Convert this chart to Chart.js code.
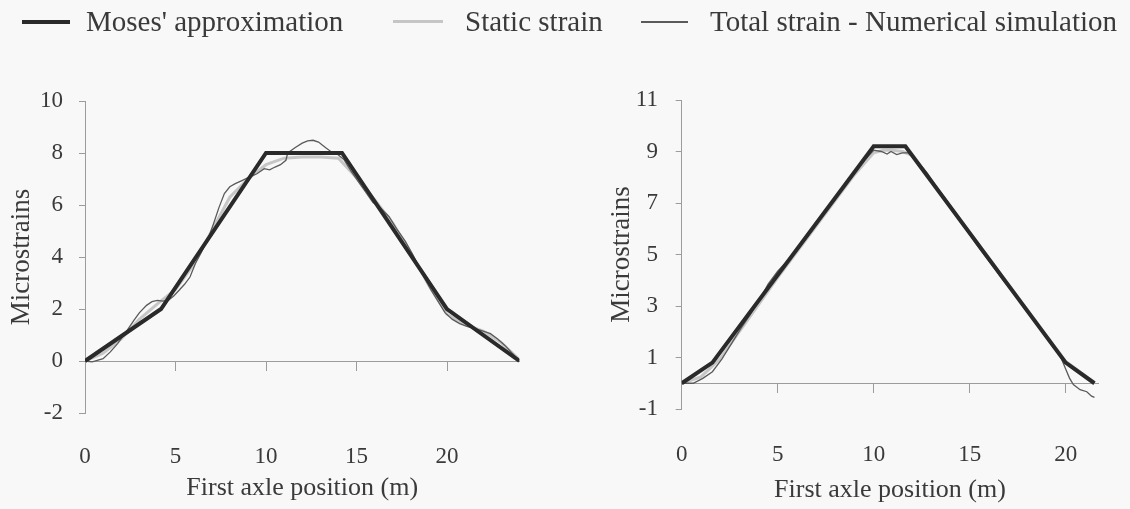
<!DOCTYPE html>
<html>
<head>
<meta charset="utf-8">
<script src="https://cdn.jsdelivr.net/npm/chart.js@4.4.1/dist/chart.umd.min.js"></script>
<style>
  html, body { margin: 0; padding: 0; background: #f8f8f8; }
  #wrap { position: relative; width: 1130px; height: 509px; overflow: hidden;
          font-family: "Liberation Serif", "Times New Roman", serif; color: #3a3a3a; }
  .pane { position: absolute; top: 0; width: 565px; height: 509px; }
  #paneL { left: 0; }
  #paneR { left: 565px; }
  #legend { position: absolute; top: 0; left: 0; width: 1130px; height: 45px; z-index: 2; }
  .lg-line { position: absolute; }
  .lg-text { position: absolute; top: 3px; font-size: 29px; line-height: 36px; white-space: nowrap; }
</style>
</head>
<body>
<div id="wrap">
  <div id="legend"></div>
  <div class="pane" id="paneL"><canvas id="chartL" width="565" height="509"></canvas></div>
  <div class="pane" id="paneR"><canvas id="chartR" width="565" height="509"></canvas></div>
</div>
<script>
// series names (shared legend)
const seriesNames = ["Moses' approximation", 'Static strain', 'Total strain - Numerical simulation'];

// left plot - first axle position (m) / microstrains
const leftMosesX = [0, 4.2, 10, 14.2, 20, 24];
const leftMosesY = [0, 2, 8, 8, 2, 0];

const leftStaticX = [0, 1, 2, 3, 4, 5, 6, 7, 8, 9, 10, 11, 12, 13, 14, 15, 16, 17, 18, 19, 20, 21, 22, 23, 24];
const leftStaticY = [0, 0.3, 0.85, 1.6, 2.2, 2.75, 3.7, 5.0, 6.3, 7.0, 7.55, 7.8, 7.85, 7.85, 7.8, 7.05, 6.2, 5.3, 4.15, 2.9, 1.8, 1.4, 1.15, 0.7, 0.05];

const leftTotalX = [0, 0.4, 1.0, 1.4, 1.8, 2.3, 2.7, 3.0, 3.4, 3.7, 4.0, 4.3, 4.6, 4.9, 5.2, 5.5, 5.8, 6.1, 6.4, 6.8,
  7.1, 7.4, 7.7, 8.0, 8.3, 8.7, 9.1, 9.5, 9.9, 10.2, 10.5, 10.8, 11.1, 11.2, 11.6, 12.0, 12.3, 12.6, 12.9, 13.3,
  13.6, 13.9, 14.3, 14.7, 15.1, 15.5, 15.9, 16.3, 16.8, 17.2, 17.7, 18.1, 18.6, 19.1, 19.5, 19.9, 20.3, 20.7,
  21.1, 21.6, 22.0, 22.4, 22.8, 23.2, 23.6, 24.0];
const leftTotalY = [0, -0.03, 0.09, 0.35, 0.67, 1.15, 1.56, 1.85, 2.14, 2.28, 2.33, 2.3, 2.33, 2.5, 2.72, 2.95, 3.23, 3.75, 4.15, 4.7,
  5.28, 5.9, 6.44, 6.7, 6.82, 6.95, 7.08, 7.2, 7.4, 7.35, 7.46, 7.55, 7.72, 8.0, 8.2, 8.38, 8.47, 8.49, 8.42, 8.2,
  8.05, 7.98, 7.75, 7.3, 6.9, 6.5, 6.1, 5.9, 5.55, 5.1, 4.6, 4.1, 3.4, 2.75, 2.3, 1.85, 1.6, 1.44,
  1.33, 1.24, 1.15, 1.05, 0.85, 0.6, 0.3, 0.02];

// right plot
const rightMosesX = [0, 1.6, 10, 11.65, 20, 21.5];
const rightMosesY = [0, 0.8, 9.2, 9.2, 0.8, 0];

const rightStaticX = [0, 1, 2, 3, 4, 5, 6, 7, 8, 9, 10, 10.5, 11, 11.5, 12, 13, 14, 15, 16, 17, 18, 19, 20, 21, 21.5];
const rightStaticY = [0, 0.25, 0.95, 2.0, 3.05, 4.1, 5.1, 6.1, 7.1, 8.1, 8.95, 9.05, 9.05, 9.0, 8.85, 7.85, 6.85, 5.85, 4.85, 3.85, 2.85, 1.85, 0.85, 0.3, 0];

const rightTotalX = [0, 0.6, 1.1, 1.6, 2.1, 2.6, 3.1, 3.6, 4.1, 4.5, 5.0, 5.5, 6.0, 6.5, 7.0, 7.5, 8.0, 8.5, 9.0, 9.5,
  10.0, 10.4, 10.7, 10.9, 11.2, 11.5, 11.8, 12.3, 12.8, 13.3, 13.8, 14.3, 14.8, 15.3, 15.8, 16.3, 16.8, 17.3,
  17.8, 18.3, 18.8, 19.3, 19.7, 20.0, 20.2, 20.4, 20.75, 21.1, 21.35, 21.5];
const rightTotalY = [0, 0.0, 0.19, 0.45, 0.95, 1.55, 2.15, 2.7, 3.3, 3.85, 4.35, 4.75, 5.15, 5.65, 6.15, 6.7, 7.15, 7.75, 8.25, 8.65,
  9.05, 9.0, 8.9, 9.0, 8.88, 8.95, 8.95, 8.6, 8.15, 7.6, 7.1, 6.55, 6.0, 5.45, 4.95, 4.45, 3.95, 3.5,
  3.05, 2.5, 2.0, 1.45, 1.1, 0.55, 0.2, -0.05, -0.25, -0.33, -0.5, -0.55];

const xTicksStep = 5;
const yTicksStep = 2;

const ink = '#3a3a3a';
const axisGray = '#9c9c9c';
const serif = '"Liberation Serif", "Times New Roman", serif';

// estilos de las series: Moses, static, total
const seriesStyles = [
  { color: '#2a2a2a', width: 4, order: 0 },
  { color: '#c6c6c6', width: 3, order: 2 },
  { color: '#5a5a5a', width: 1.3, order: 1 }
];

function toPoints(xs, ys) {
  return xs.map((x, i) => ({ x: x, y: ys[i] }));
}

function buildDatasets(series) {
  return series.map((s, i) => ({
    label: seriesNames[i],
    data: toPoints(s[0], s[1]),
    showLine: true,
    borderColor: seriesStyles[i].color,
    borderWidth: seriesStyles[i].width,
    pointRadius: 0,
    tension: 0,
    fill: false,
    order: seriesStyles[i].order
  }));
}

function buildChart(canvasId, series, cfg) {
  const ctx = document.getElementById(canvasId).getContext('2d');
  return new Chart(ctx, {
    type: 'scatter',
    data: { datasets: buildDatasets(series) },
    options: {
      responsive: false,
      animation: false,
      layout: { padding: cfg.padding },
      plugins: { legend: { display: false }, tooltip: { enabled: false } },
      scales: {
        x: {
          type: 'linear', position: 'bottom', min: 0, max: cfg.xMax,
          border: { display: false },
          grid: { display: false, drawTicks: false },
          ticks: { stepSize: xTicksStep, includeBounds: false, padding: cfg.xTickPad, maxRotation: 0,
                   color: ink, font: { family: serif, size: 23 } },
          title: { display: true, text: 'First axle position (m)', color: ink,
                   font: { family: serif, size: 26, lineHeight: 1 }, padding: cfg.xTitlePad },
          afterFit: function(scale) { scale.height = cfg.xBoxHeight; }
        },
        // zero line with hanging ticks
        x0: {
          type: 'linear', position: { y: 0 }, min: 0, max: cfg.xMax,
          ticks: { display: false, stepSize: xTicksStep, includeBounds: false },
          grid: { drawOnChartArea: false, tickLength: 9, color: axisGray },
          border: { color: axisGray, width: 1 }
        },
        y: {
          type: 'linear', position: 'left', min: cfg.yMin, max: cfg.yMax,
          ticks: { stepSize: yTicksStep, padding: cfg.yTickPad, color: ink, font: { family: serif, size: 23 } },
          grid: { drawOnChartArea: false, tickLength: 6, color: axisGray },
          border: { color: axisGray, width: 1 },
          title: { display: true, text: 'Microstrains', color: ink,
                   font: { family: serif, size: 27, lineHeight: 1 }, padding: cfg.yTitlePad },
          afterFit: function(scale) { scale.width = cfg.yBoxWidth; }
        }
      }
    }
  });
}

// leyenda común en HTML
const legendPos = [
  { line: 22, lineW: 48, top: 20, h: 4, text: 86 },
  { line: 393, lineW: 50, top: 20, h: 3, text: 465 },
  { line: 641, lineW: 47, top: 21, h: 1.5, text: 710 }
];
const legendBox = document.getElementById('legend');
seriesNames.forEach((name, i) => {
  const ln = document.createElement('div');
  ln.className = 'lg-line';
  ln.style.left = legendPos[i].line + 'px';
  ln.style.top = legendPos[i].top + 'px';
  ln.style.width = legendPos[i].lineW + 'px';
  ln.style.height = legendPos[i].h + 'px';
  ln.style.background = seriesStyles[i].color;
  legendBox.appendChild(ln);
  const tx = document.createElement('div');
  tx.className = 'lg-text';
  tx.style.left = legendPos[i].text + 'px';
  tx.textContent = name;
  legendBox.appendChild(tx);
});

buildChart('chartL', [[leftMosesX, leftMosesY], [leftStaticX, leftStaticY], [leftTotalX, leftTotalY]], {
  xMax: 24, yMin: -2, yMax: 10,
  padding: { left: 0, right: 45.6, top: 101, bottom: 0 },
  xTickPad: 30, xTitlePad: { top: 4, bottom: 8 }, xBoxHeight: 96,
  yTickPad: 16, yTitlePad: { top: 8.8, bottom: 4 }, yBoxWidth: 85
});

buildChart('chartR', [[rightMosesX, rightMosesY], [rightStaticX, rightStaticY], [rightTotalX, rightTotalY]], {
  xMax: 21.7, yMin: -1, yMax: 11,
  padding: { left: 30, right: 31.7, top: 100, bottom: 0 },
  xTickPad: 32, xTitlePad: { top: 8, bottom: 6 }, xBoxHeight: 100,
  yTickPad: 17.7, yTitlePad: { top: 13.5, bottom: 0 }, yBoxWidth: 86.7
});
</script>
</body>
</html>
